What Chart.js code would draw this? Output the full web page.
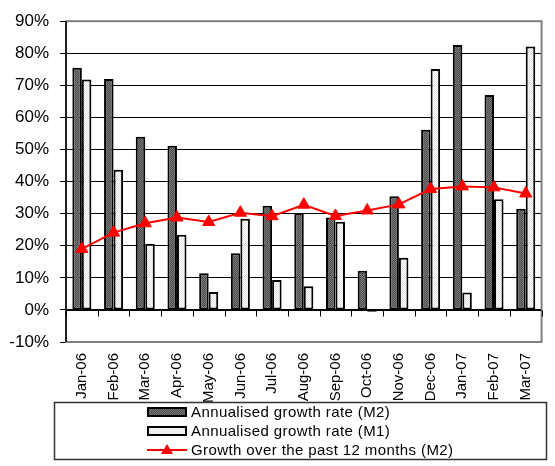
<!DOCTYPE html>
<html>
<head>
<meta charset="utf-8">
<script src="https://cdn.jsdelivr.net/npm/chart.js@4"></script>
<style>
html,body{margin:0;padding:0;background:#fff;}
#wrap{width:555px;height:466px;position:relative;}
</style>
</head>
<body>
<div id="wrap"><canvas id="c" width="555" height="466"></canvas></div>
<script>
const categories = ['Jan-06','Feb-06','Mar-06','Apr-06','May-06','Jun-06','Jul-06','Aug-06','Sep-06','Oct-06','Nov-06','Dec-06','Jan-07','Feb-07','Mar-07'];
const m2Annualised = [75.5,72,54,51.2,11.4,17.7,32.5,30.2,28.8,12.2,35.4,56.2,82.6,67,31.5];
const m1Annualised = [71.8,43.7,20.6,23.4,5.6,28.4,9.3,7.4,27.5,-0.6,16.3,75.1,5.4,34.5,82.1];
const m2Past12 = [19,24.1,27,28.8,27.4,30.3,29.2,32.8,29.3,31,32.9,37.7,38.5,38.2,36.3];
const seriesLabels = ['Annualised growth rate (M2)','Annualised growth rate (M1)','Growth over the past 12 months (M2)'];
const yMin = -10, yMax = 90, yStep = 10;

const FONT = "'Liberation Sans', Arial, sans-serif";

function makePattern(bg, dot) {
  const p = document.createElement('canvas');
  p.width = 2; p.height = 2;
  const g = p.getContext('2d');
  g.fillStyle = bg; g.fillRect(0,0,2,2);
  g.fillStyle = dot; g.fillRect(0,0,1,1); g.fillRect(1,1,1,1);
  return document.getElementById('c').getContext('2d').createPattern(p,'repeat');
}
const darkFill = makePattern('#4a4a4a', '#7a7a7a');
const lightFill = makePattern('#ffffff', '#e0e0e0');

const framePlugin = {
  id: 'frame',
  beforeDatasetsDraw(chart) {
    const {ctx, chartArea: a, scales: {x, y}} = chart;
    ctx.save();
    ctx.strokeStyle = '#808080';
    ctx.lineWidth = 2;
    ctx.strokeRect(a.left, a.top, a.right - a.left, a.bottom - a.top);
    ctx.strokeStyle = '#000';
    ctx.lineWidth = 1.5;
    ctx.beginPath();
    ctx.moveTo(a.left, a.top); ctx.lineTo(a.left, a.bottom);
    ctx.stroke();
    const y0 = Math.round(y.getPixelForValue(0)) + 0.5;
    ctx.lineWidth = 1;
    ctx.beginPath();
    const n = categories.length;
    for (let i = 0; i <= n; i++) {
      const px = Math.round(x.getPixelForValue(i - 0.5)) + 0.5;
      ctx.moveTo(px, y0); ctx.lineTo(px, y0 + 6);
    }
    ctx.moveTo(a.left, y0); ctx.lineTo(a.right, y0);
    ctx.stroke();
    ctx.restore();
  },
  afterDraw(chart) {
    const ctx = chart.ctx;
    ctx.save();
    ctx.strokeStyle = '#333';
    ctx.lineWidth = 1.5;
    ctx.strokeRect(54.5, 402.5, 492, 57);
    const sx = 147, sw = 40, tx = 191;
    const rows = [412, 431, 450];
    ctx.font = "15px " + FONT;
    ctx.textBaseline = 'middle';
    ctx.fillStyle = '#000'; ctx.fillRect(sx, rows[0]-5, sw, 10);
    ctx.fillStyle = darkFill; ctx.fillRect(sx+2, rows[0]-3, sw-4, 6);
    ctx.fillStyle = '#000'; ctx.fillRect(sx, rows[1]-5, sw, 10);
    ctx.fillStyle = lightFill; ctx.fillRect(sx+2, rows[1]-3, sw-4, 6);
    ctx.strokeStyle = '#ff0000'; ctx.lineWidth = 2;
    ctx.beginPath(); ctx.moveTo(sx, rows[2]); ctx.lineTo(sx+sw, rows[2]); ctx.stroke();
    ctx.fillStyle = '#ff0000';
    ctx.beginPath();
    ctx.moveTo(sx+sw/2, rows[2]-6); ctx.lineTo(sx+sw/2+6, rows[2]+4); ctx.lineTo(sx+sw/2-6, rows[2]+4);
    ctx.closePath(); ctx.fill();
    ctx.fillStyle = '#000';
    if ('letterSpacing' in ctx) ctx.letterSpacing = '0.4px';
    for (let i = 0; i < 3; i++) ctx.fillText(seriesLabels[i], tx, rows[i] + 1);
    ctx.restore();
  }
};

new Chart(document.getElementById('c'), {
  type: 'bar',
  data: {
    labels: categories,
    datasets: [
      {
        type: 'bar', label: seriesLabels[0], data: m2Annualised,
        backgroundColor: darkFill, borderColor: '#000', borderWidth: 2, borderSkipped: false,
        categoryPercentage: 0.6, barPercentage: 1.0, order: 2
      },
      {
        type: 'bar', label: seriesLabels[1], data: m1Annualised,
        backgroundColor: lightFill, borderColor: '#000', borderWidth: 2, borderSkipped: false,
        categoryPercentage: 0.6, barPercentage: 1.0, order: 2
      },
      {
        type: 'line', label: seriesLabels[2], data: m2Past12,
        borderColor: '#ff0000', backgroundColor: '#ff0000', borderWidth: 2,
        pointStyle: 'triangle', pointRadius: 7, pointBorderWidth: 1, tension: 0, order: 1
      }
    ]
  },
  options: {
    responsive: false,
    animation: false,
    devicePixelRatio: 1,
    layout: { padding: { top: 17, right: 7, left: 0, bottom: 0 } },
    plugins: { legend: { display: false }, tooltip: { enabled: false } },
    scales: {
      x: {
        grid: { display: false, drawTicks: false },
        border: { display: false },
        ticks: {
          autoSkip: false, minRotation: 90, maxRotation: 90, padding: 11,
          color: '#000', font: { family: FONT, size: 15 }
        },
        afterFit(s) { s.height = 124; }
      },
      y: {
        min: yMin, max: yMax,
        grid: {
          color: (c) => (c.tick && (c.tick.value === yMax || c.tick.value === yMin)) ? '#808080' : '#000',
          lineWidth: 1, tickLength: 6, tickColor: '#000'
        },
        border: { display: false },
        ticks: {
          stepSize: yStep, padding: 11, color: '#000',
          font: { family: FONT, size: 17 },
          callback: (v) => v + '%'
        },
        afterFit(s) { s.width = 66; }
      }
    }
  },
  plugins: [framePlugin]
});
</script>
</body>
</html>
